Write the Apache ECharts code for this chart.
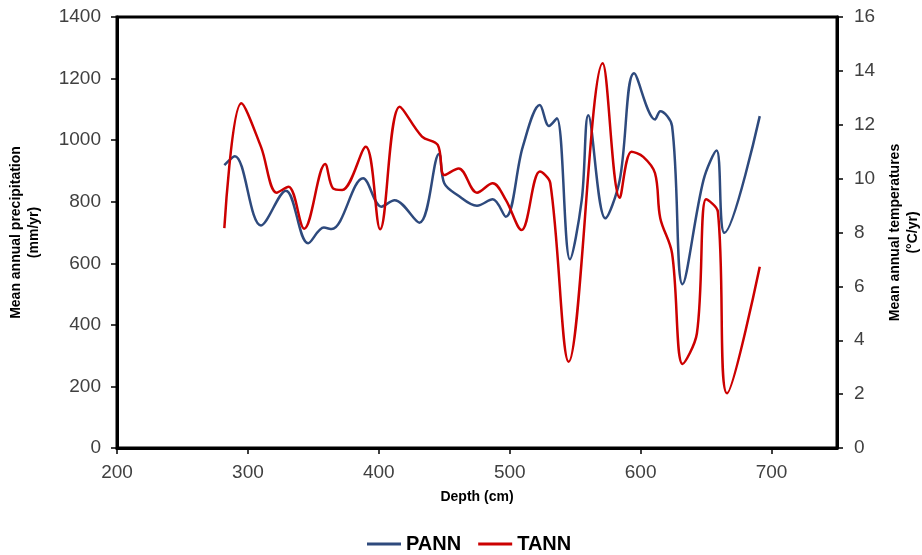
<!DOCTYPE html>
<html>
<head>
<meta charset="utf-8">
<title>PANN / TANN vs depth</title>
<script src="https://cdn.jsdelivr.net/npm/echarts@6/dist/echarts.min.js"></script>
<style>
  html, body { margin: 0; padding: 0; background: #fff; }
  #chart { width: 922px; height: 555px; }
</style>
</head>
<body>
<div id="chart"></div>
<script>
// Mean annual precipitation (PANN, mm/yr) by depth (cm)
const pannDepth  = [282, 290, 310, 329, 346, 358, 364, 388, 402, 412, 431, 446, 450, 460, 475, 487, 497, 510, 523, 530, 536, 546, 555, 560, 573, 584, 595, 611, 615, 624, 632, 648, 658, 664, 691];
const pannValues = [919, 948, 723, 836, 665, 716, 711, 876, 784, 805, 732, 955, 860, 822, 787, 808, 751, 979, 1114, 1046, 1071, 613, 805, 1081, 746, 870, 1217, 1067, 1094, 1046, 532, 870, 966, 699, 1078];

// Mean annual temperature (TANN, °C/yr) by depth (cm)
const tannDepth  = [282, 295, 310, 322, 331, 343, 359, 365, 372, 390, 401, 416, 433, 445, 450, 461, 475, 487, 497, 509, 523, 531, 545, 571, 584, 593, 602, 611, 615, 624, 632, 643, 650, 659, 666, 691];
const tannValues = [8.16, 12.8, 11.18, 9.48, 9.70, 8.14, 10.54, 9.64, 9.58, 11.18, 8.12, 12.67, 11.56, 11.25, 10.13, 10.38, 9.48, 9.83, 9.21, 8.09, 10.26, 9.83, 3.20, 14.28, 9.29, 11.0, 10.81, 10.2, 8.53, 7.23, 3.12, 4.26, 9.23, 8.77, 2.03, 6.73];

// Axis ranges
const depthRange = [200, 750];
const precipRange = [0, 1400];
const tempRange = [0, 16];

const zip = (xs, ys) => xs.map((x, i) => [x, ys[i]]);

const FONT = "'Liberation Sans', Arial, sans-serif";
const plain = v => String(v);
const labelStyle = { color: '#404040', fontSize: 19, fontFamily: FONT, formatter: plain };
const nameStyle = { color: '#000', fontSize: 14, fontWeight: 'bold', fontFamily: FONT, lineHeight: 18 };
const axisLine = { show: true, onZero: false, lineStyle: { color: '#000', width: 3 } };
const axisTick = { show: true, inside: false, length: 6, lineStyle: { color: '#000', width: 1.5 } };

const chart = echarts.init(document.getElementById('chart'), null, { renderer: 'canvas' });
chart.setOption({
  backgroundColor: '#fff',
  animation: false,
  grid: {
    left: 117, right: 85, top: 17, bottom: 107,
    outerBoundsMode: 'none',
    containLabel: false,
    show: true, borderColor: '#000', borderWidth: 3, backgroundColor: 'transparent'
  },
  legend: {
    top: 529,
    left: 362,
    itemWidth: 34,
    itemHeight: 3,
    itemGap: 17,
    icon: 'rect',
    textStyle: { color: '#000', fontSize: 20, fontWeight: 'bold', fontFamily: FONT },
    data: ['PANN', 'TANN']
  },
  xAxis: {
    type: 'value',
    min: depthRange[0], max: depthRange[1], interval: 100,
    name: 'Depth (cm)',
    nameLocation: 'middle',
    nameGap: 40,
    nameTextStyle: nameStyle,
    axisLine: axisLine,
    axisTick: axisTick,
    axisLabel: Object.assign({ margin: 15, showMaxLabel: false }, labelStyle),
    splitLine: { show: false }
  },
  yAxis: [
    {
      type: 'value',
      position: 'left',
      min: precipRange[0], max: precipRange[1], interval: 200,
      name: 'Mean annual precipitation\n(mm/yr)',
      nameLocation: 'middle',
      nameRotate: 90,
      nameGap: 74,
      nameTextStyle: nameStyle,
      axisLine: axisLine,
      axisTick: axisTick,
      axisLabel: Object.assign({ margin: 16 }, labelStyle),
      splitLine: { show: false }
    },
    {
      type: 'value',
      position: 'right',
      min: tempRange[0], max: tempRange[1], interval: 2,
      name: 'Mean annual temperatures\n(°C/yr)',
      nameLocation: 'middle',
      nameRotate: 90,
      nameGap: 43,
      nameTextStyle: nameStyle,
      axisLine: axisLine,
      axisTick: axisTick,
      axisLabel: Object.assign({ margin: 17 }, labelStyle),
      splitLine: { show: false }
    }
  ],
  series: [
    {
      name: 'PANN',
      type: 'line',
      yAxisIndex: 0,
      data: zip(pannDepth, pannValues),
      smooth: 0.35,
      showSymbol: false,
      symbol: 'none',
      color: '#2E4A7D',
      lineStyle: { color: '#2E4A7D', width: 2.5 },
      z: 3
    },
    {
      name: 'TANN',
      type: 'line',
      yAxisIndex: 1,
      data: zip(tannDepth, tannValues),
      smooth: 0.35,
      showSymbol: false,
      symbol: 'none',
      color: '#CC0000',
      lineStyle: { color: '#CC0000', width: 2.5 },
      z: 4
    }
  ]
});
</script>
</body>
</html>
